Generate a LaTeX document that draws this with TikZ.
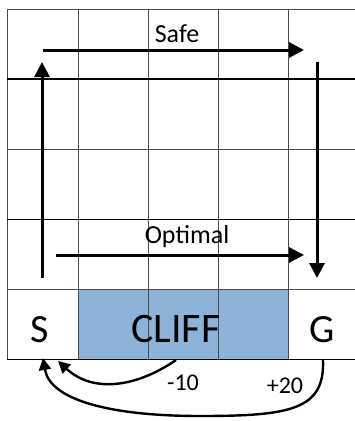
\documentclass[tikz,border=0pt]{standalone}
\usepackage{fontspec}
\setmainfont{Carlito}
\usetikzlibrary{arrows.meta}
\definecolor{cliffblue}{RGB}{141,179,217}
\tikzset{
  gridline/.style={draw=black!70, line width=0.9pt},
  blackline/.style={draw=black, line width=0.9pt},
  darkline/.style={draw=black, line width=1.3pt},
  bigarrow/.style={line width=3pt, -{Triangle[length=15pt,width=15pt]}},
  curvearrow/.style={line width=2.4pt, -{Triangle[length=12pt,width=12pt]}},
  lbl/.style={inner sep=0pt, anchor=base}
}
\begin{document}
\begin{tikzpicture}[x=1pt,y=-1pt]
\useasboundingbox (0,0) rectangle (355,421);
% cliff
\fill[cliffblue] (78,289) rectangle (288,359);
% grid
\foreach \x in {7,78,148,218,288} \draw[gridline] (\x,9) -- (\x,359);
\foreach \y in {9,149,289} \draw[gridline] (7,\y) -- (355,\y);
\foreach \y in {219,359} \draw[blackline] (7,\y) -- (355,\y);
\draw[darkline] (7,79) -- (355,79);
% texts
\node[lbl, font=\fontsize{26}{30}\selectfont] (safe) at (177,42) {Safe};
\node[lbl, font=\fontsize{26}{30}\selectfont] (opt) at (187,243) {Optimal};
\node[lbl, font=\fontsize{42}{48}\selectfont] (cliff) at (176,342) {CLIFF};
\node[lbl, font=\fontsize{40}{46}\selectfont] (S) at (40,342) {S};
\node[lbl, font=\fontsize{40}{46}\selectfont] (G) at (322,342) {G};
\node[lbl, font=\fontsize{24}{28}\selectfont] (m10) at (183,390) {-10};
\node[lbl, font=\fontsize{24}{28}\selectfont] (p20) at (285,393) {+20};
% arrow endpoints
\coordinate (upA) at (42,278);
\coordinate (upB) at (42,62);
\coordinate (topA) at (43,50);
\coordinate (topB) at (304,50);
\coordinate (dnA) at (317,62);
\coordinate (dnB) at (317,278);
\coordinate (opA) at (56,255);
\coordinate (opB) at (304,255);
\coordinate (cA) at (176,360);
\coordinate (cB) at (58,361);
\coordinate (gA) at (323,360);
\coordinate (gM) at (200,416);
\coordinate (gB) at (43,358);
% arrows
\draw[bigarrow] (upA) -- (upB);
\draw[bigarrow] (topA) -- (topB);
\draw[bigarrow] (dnA) -- (dnB);
\draw[bigarrow] (opA) -- (opB);
\draw[curvearrow] (cA) .. controls (140,385) and (95,395) .. (cB);
\draw[curvearrow] (gA) .. controls (325,410) and (290,416) .. (gM)
  .. controls (110,416) and (50,400) .. (gB);
\end{tikzpicture}
\end{document}
